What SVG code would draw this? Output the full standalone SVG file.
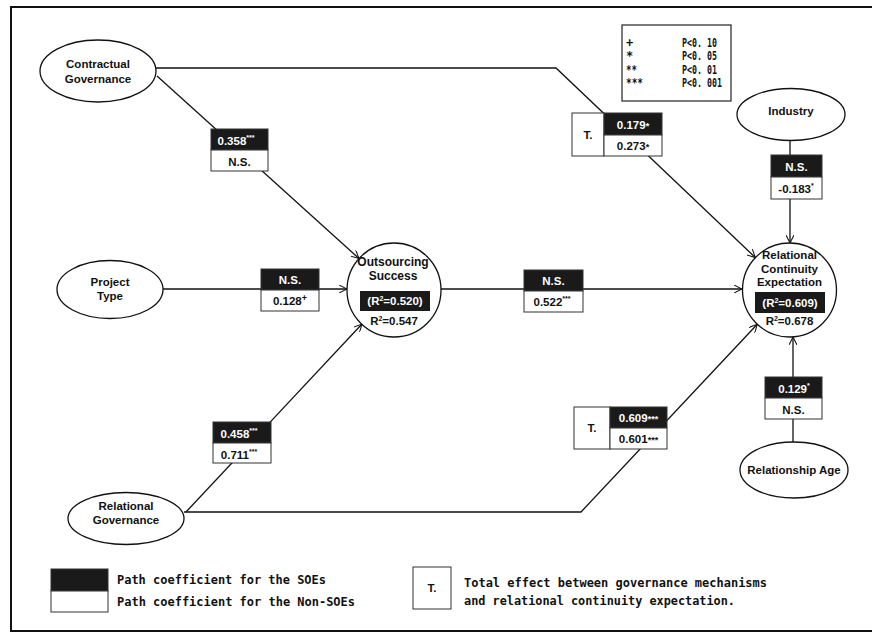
<svg xmlns="http://www.w3.org/2000/svg" width="872" height="633" viewBox="0 0 872 633">
<defs>
<marker id="arr" viewBox="0 0 10 10" refX="10" refY="5" markerWidth="8" markerHeight="8" markerUnits="userSpaceOnUse" orient="auto">
<path d="M0,0 L10,5 L0,10" fill="none" stroke="#111" stroke-width="1.3"/>
</marker>
<style>
.n{fill:#fff;stroke:#111;stroke-width:1.3}
.t{font-family:"Liberation Sans",Arial,sans-serif;font-weight:bold;font-size:11.5px;fill:#111;text-anchor:middle}
.w{font-family:"Liberation Sans",Arial,sans-serif;font-weight:bold;font-size:11.5px;fill:#fff;text-anchor:middle}
.b{fill:#1a1a1a;stroke:#333;stroke-width:1}
.wb{fill:#fff;stroke:#333;stroke-width:1}
.c{fill:none;stroke:#111;stroke-width:1.3}
.m{font-family:"DejaVu Sans Mono","Liberation Mono",monospace;font-weight:bold;font-size:13px;fill:#111}
.p{font-family:"DejaVu Sans Mono","Liberation Mono",monospace;font-weight:bold;font-size:12px;fill:#111}
.big{font-size:12px}
.s{font-size:7px}
.a{font-size:9px}
</style>
</defs>
<rect x="11" y="7" width="870" height="624" fill="#fff" stroke="#111" stroke-width="2"/>

<g id="connectors">
<line class="c" x1="157" y1="76" x2="359" y2="258.5" marker-end="url(#arr)"/>
<line class="c" x1="163" y1="289" x2="347" y2="289" marker-end="url(#arr)"/>
<line class="c" x1="186" y1="512" x2="362" y2="324" marker-end="url(#arr)"/>
<line class="c" x1="441" y1="289" x2="742" y2="289" marker-end="url(#arr)"/>
<polyline class="c" points="156,68 556,68 755.4,257.6" marker-end="url(#arr)"/>
<polyline class="c" points="184,512 581,512 757.3,324.3" marker-end="url(#arr)"/>
<line class="c" x1="790" y1="140" x2="790" y2="243" marker-end="url(#arr)"/>
<line class="c" x1="793" y1="442" x2="793" y2="337" marker-end="url(#arr)"/>
</g>

<g id="contractual-governance">
<ellipse class="n" cx="98" cy="71" rx="58" ry="31"/>
<text class="t" x="98" y="68">Contractual</text>
<text class="t" x="98" y="83">Governance</text>
</g>
<g id="project-type">
<ellipse class="n" cx="110" cy="289.5" rx="53" ry="29"/>
<text class="t" x="110" y="286">Project</text>
<text class="t" x="110" y="300">Type</text>
</g>
<g id="relational-governance">
<ellipse class="n" cx="126" cy="518.5" rx="58" ry="26"/>
<text class="t" x="126" y="510">Relational</text>
<text class="t" x="126" y="524">Governance</text>
</g>
<g id="industry">
<ellipse class="n" cx="791" cy="114.5" rx="54" ry="26"/>
<text class="t" x="791" y="115">Industry</text>
</g>
<g id="relationship-age">
<ellipse class="n" cx="794" cy="470" rx="54" ry="28"/>
<text class="t" x="794" y="474">Relationship Age</text>
</g>
<g id="outsourcing-success">
<circle class="n" cx="394" cy="290" r="47"/>
<text class="t big" x="393" y="266">Outsourcing</text>
<text class="t big" x="393" y="280">Success</text>
<rect x="360" y="291" width="70" height="20" fill="#1a1a1a"/>
<text class="w" x="395" y="305">(R<tspan class="s" dy="-4">2</tspan><tspan dy="4">=0.520)</tspan></text>
<text class="t" x="394" y="325">R<tspan class="s" dy="-4">2</tspan><tspan dy="4">=0.547</tspan></text>
</g>
<g id="relational-continuity-expectation">
<circle class="n" cx="789.5" cy="290" r="47"/>
<text class="t" x="789.5" y="259">Relational</text>
<text class="t" x="789.5" y="273">Continuity</text>
<text class="t" x="789.5" y="286">Expectation</text>
<rect x="755" y="292" width="70" height="21" fill="#1a1a1a"/>
<text class="w" x="790" y="307">(R<tspan class="s" dy="-4">2</tspan><tspan dy="4">=0.609)</tspan></text>
<text class="t" x="789.5" y="325">R<tspan class="s" dy="-4">2</tspan><tspan dy="4">=0.678</tspan></text>
</g>

<g id="label-cg-os">
<rect class="b" x="211" y="129" width="57" height="21"/>
<rect class="wb" x="211" y="150" width="57" height="21"/>
<text class="w" x="236" y="145">0.358<tspan class="s" dy="-5">***</tspan></text>
<text class="t" x="239.5" y="166">N.S.</text>
</g>
<g id="label-pt-os">
<rect class="b" x="261" y="269" width="58" height="21"/>
<rect class="wb" x="261" y="290" width="58" height="21"/>
<text class="w" x="290" y="284">N.S.</text>
<text class="t" x="290" y="305">0.128<tspan class="a" dy="-4">+</tspan></text>
</g>
<g id="label-rg-os">
<rect class="b" x="213" y="422" width="58" height="21"/>
<rect class="wb" x="213" y="443" width="58" height="20"/>
<text class="w" x="239" y="438">0.458<tspan class="s" dy="-5">***</tspan></text>
<text class="t" x="239" y="459">0.711<tspan class="s" dy="-5">***</tspan></text>
</g>
<g id="label-os-rce">
<rect class="b" x="524" y="270" width="59" height="21"/>
<rect class="wb" x="524" y="291" width="59" height="21"/>
<text class="w" x="553.5" y="285">N.S.</text>
<text class="t" x="552" y="306">0.522<tspan class="s" dy="-5">***</tspan></text>
</g>
<g id="label-cg-rce">
<rect class="wb" x="572" y="113" width="32" height="43"/>
<text class="t" x="588" y="139">T.</text>
<rect class="b" x="604" y="113" width="58" height="22"/>
<rect class="wb" x="604" y="135" width="58" height="21"/>
<text class="w" x="633" y="129">0.179<tspan class="a">*</tspan></text>
<text class="t" x="633" y="150">0.273<tspan class="a">*</tspan></text>
</g>
<g id="label-rg-rce">
<rect class="wb" x="574" y="407" width="36" height="42"/>
<text class="t" x="592" y="432">T.</text>
<rect class="b" x="610" y="407" width="57" height="21"/>
<rect class="wb" x="610" y="428" width="57" height="21"/>
<text class="w" x="638.5" y="422">0.609<tspan class="a">***</tspan></text>
<text class="t" x="638.5" y="443">0.601<tspan class="a">***</tspan></text>
</g>
<g id="label-ind-rce">
<rect class="b" x="771" y="155" width="51" height="22"/>
<rect class="wb" x="771" y="177" width="51" height="22"/>
<text class="w" x="796.5" y="171">N.S.</text>
<text class="t" x="796" y="193">-0.183<tspan class="s" dy="-5">*</tspan></text>
</g>
<g id="label-ra-rce">
<rect class="b" x="765" y="377" width="57" height="21"/>
<rect class="wb" x="765" y="398" width="57" height="21"/>
<text class="w" x="794" y="393">0.129<tspan class="s" dy="-5">*</tspan></text>
<text class="t" x="793.5" y="414">N.S.</text>
</g>

<g id="legend-p">
<rect x="622" y="25" width="109" height="76" fill="#fff" stroke="#333" stroke-width="1.3"/>
<text class="p" x="626" y="47">+</text>
<text class="p" x="626" y="60">*</text>
<text class="p" x="626" y="74" textLength="11" lengthAdjust="spacingAndGlyphs">**</text>
<text class="p" x="626" y="87" textLength="17" lengthAdjust="spacingAndGlyphs">***</text>
<text class="p" x="682" y="47" textLength="35" lengthAdjust="spacingAndGlyphs">P&lt;0. 10</text>
<text class="p" x="682" y="60" textLength="35" lengthAdjust="spacingAndGlyphs">P&lt;0. 05</text>
<text class="p" x="682" y="74" textLength="35" lengthAdjust="spacingAndGlyphs">P&lt;0. 01</text>
<text class="p" x="682" y="87" textLength="40" lengthAdjust="spacingAndGlyphs">P&lt;0. 001</text>
</g>
<g id="legend-bottom">
<rect class="b" x="51" y="569" width="57" height="22"/>
<rect class="wb" x="51" y="591" width="57" height="21"/>
<text class="m" x="117" y="584" textLength="209" lengthAdjust="spacingAndGlyphs">Path coefficient for the SOEs</text>
<text class="m" x="117" y="606" textLength="238" lengthAdjust="spacingAndGlyphs">Path coefficient for the Non-SOEs</text>
<rect class="wb" x="413" y="567" width="38" height="42"/>
<text class="t" x="432" y="592">T.</text>
<text class="m" x="464" y="587" textLength="303" lengthAdjust="spacingAndGlyphs">Total effect between governance mechanisms</text>
<text class="m" x="464" y="605" textLength="271" lengthAdjust="spacingAndGlyphs">and relational continuity expectation.</text>
</g>
</svg>
